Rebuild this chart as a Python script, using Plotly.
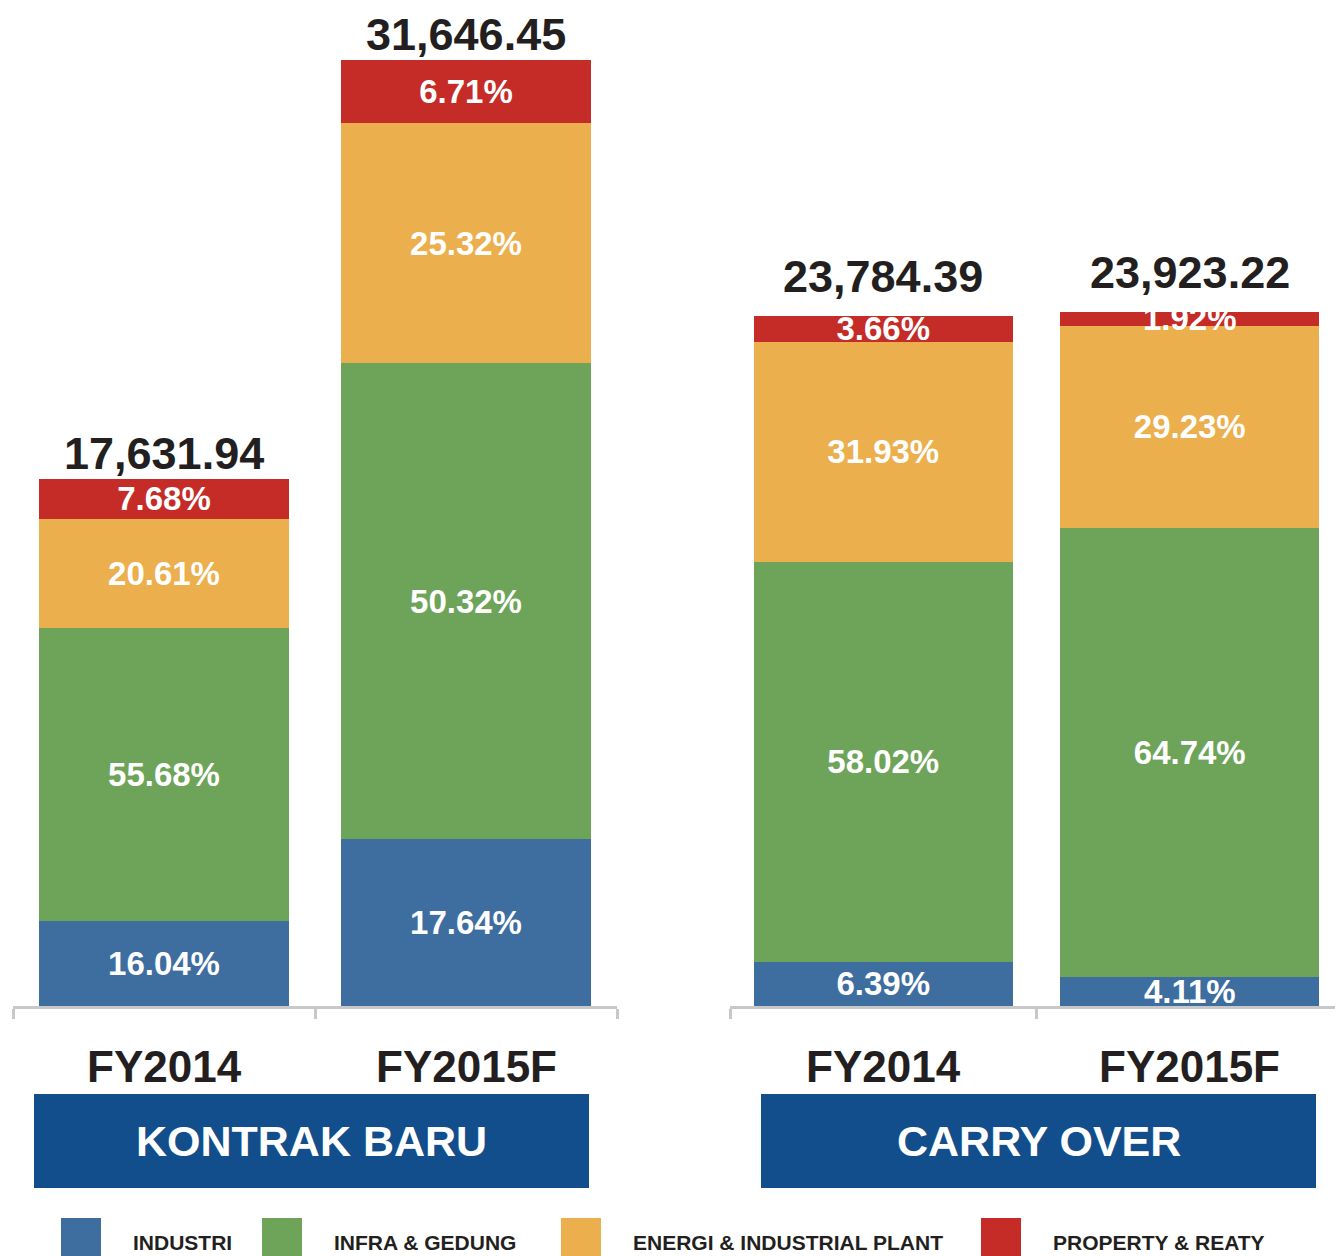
import plotly.graph_objects as go

# ---------------- data ----------------
categories = ["FY2014", "FY2015F"]
panel_titles = ["KONTRAK BARU", "CARRY OVER"]
series_names = ["INDUSTRI", "INFRA & GEDUNG", "ENERGI & INDUSTRIAL PLANT", "PROPERTY & REATY"]

kb_totals = [17631.94, 31646.45]
kb_industri = [16.04, 17.64]
kb_infra = [55.68, 50.32]
kb_energi = [20.61, 25.32]
kb_property = [7.68, 6.71]

co_totals = [23784.39, 23923.22]
co_industri = [6.39, 4.11]
co_infra = [58.02, 64.74]
co_energi = [31.93, 29.23]
co_property = [3.66, 1.92]

colors = ["#3E6D9F", "#6EA45A", "#ECAF4E", "#C52B27"]
banner_color = "#124E8C"
axis_gray = "#C8C8C8"
text_dark = "#231F20"
FONT = "Liberation Sans, Arial, Helvetica, sans-serif"

OFF = 8                 # page body margin
W, H = 1343 - OFF, 1256 - OFF
PB = 1006 - OFF         # plot-area bottom (figure pixels)


def px(x):
    """screen x -> paper x"""
    return (x - OFF) / W


def py(y):
    """screen y -> paper y"""
    return (PB - (y - OFF)) / PB


fig = go.Figure()

panels = [
    ("x", "y", kb_totals, [kb_industri, kb_infra, kb_energi, kb_property], 0.83, -2),
    ("x2", "y2", co_totals, [co_industri, co_infra, co_energi, co_property], 0.845, 12),
]

for xa, ya, totals, pcts, bw, lift in panels:
    for name, col, pct in zip(series_names, colors, pcts):
        vals = [t * p / 100 for t, p in zip(totals, pct)]
        fig.add_trace(go.Bar(
            x=categories, y=vals, name=name, xaxis=xa, yaxis=ya,
            marker=dict(color=col, line=dict(width=0)),
            text=[f"{p:.2f}%" for p in pct],
            textposition="inside", insidetextanchor="middle",
            textangle=0, constraintext="none",
            textfont=dict(family=FONT, size=33, color="white", weight="bold"),
            width=bw, showlegend=False, hoverinfo="skip",
        ))
    for c, t in zip(categories, totals):
        fig.add_annotation(
            x=c, y=t, xref=xa, yref=ya, text=f"{t:,.2f}", showarrow=False,
            xanchor="center", yanchor="bottom", yshift=lift,
            font=dict(family=FONT, size=45, color=text_dark, weight="bold"),
        )
    for c in categories:
        fig.add_annotation(
            x=c, y=py(1066), xref=xa, yref="paper", text=c, showarrow=False,
            xanchor="center", yanchor="middle",
            font=dict(family=FONT, size=44, color=text_dark, weight="bold"),
        )

# panel banners
banners = [(34, 589), (761, 1316)]
for (x0, x1), title in zip(banners, panel_titles):
    fig.add_shape(type="rect", xref="paper", yref="paper",
                  x0=px(x0), x1=px(x1), y0=py(1188), y1=py(1094),
                  fillcolor=banner_color, line=dict(width=0), layer="below")
    fig.add_annotation(x=px((x0 + x1) / 2), y=py(1141), xref="paper", yref="paper",
                       text=title, showarrow=False, xanchor="center", yanchor="middle",
                       font=dict(family=FONT, size=43, color="white", weight="bold"))

# custom legend
legend_sq_x = [61, 262, 561, 981]
for name, col, sx in zip(series_names, colors, legend_sq_x):
    fig.add_shape(type="rect", xref="paper", yref="paper",
                  x0=px(sx), x1=px(sx + 40), y0=py(1262), y1=py(1218),
                  fillcolor=col, line=dict(width=0))
    fig.add_annotation(x=px(sx + 70), y=py(1242), xref="paper", yref="paper",
                       text=name, showarrow=False, xanchor="left", yanchor="middle",
                       font=dict(family=FONT, size=21, color=text_dark, weight="bold"))

xaxis_common = dict(
    showline=True, linecolor=axis_gray, linewidth=3,
    ticks="outside", ticklen=10, tickwidth=3, tickcolor=axis_gray,
    tickson="boundaries", showticklabels=False, showgrid=False, zeroline=False,
    fixedrange=True,
)
yaxis_common = dict(visible=False, showgrid=False, zeroline=False, fixedrange=True)

fig.update_layout(
    width=W, height=H,
    margin=dict(l=0, r=0, t=0, b=H - PB),
    barmode="stack",
    plot_bgcolor="white", paper_bgcolor="white",
    xaxis=dict(domain=[px(13), px(617)], anchor="y", **xaxis_common),
    xaxis2=dict(domain=[px(730), 1.0], anchor="y2", **xaxis_common),
    yaxis=dict(range=[0, PB / 0.0299], anchor="x", **yaxis_common),
    yaxis2=dict(range=[0, PB / 0.0290], anchor="x2", **yaxis_common),
    showlegend=False,
)

fig.write_html("out.html")
